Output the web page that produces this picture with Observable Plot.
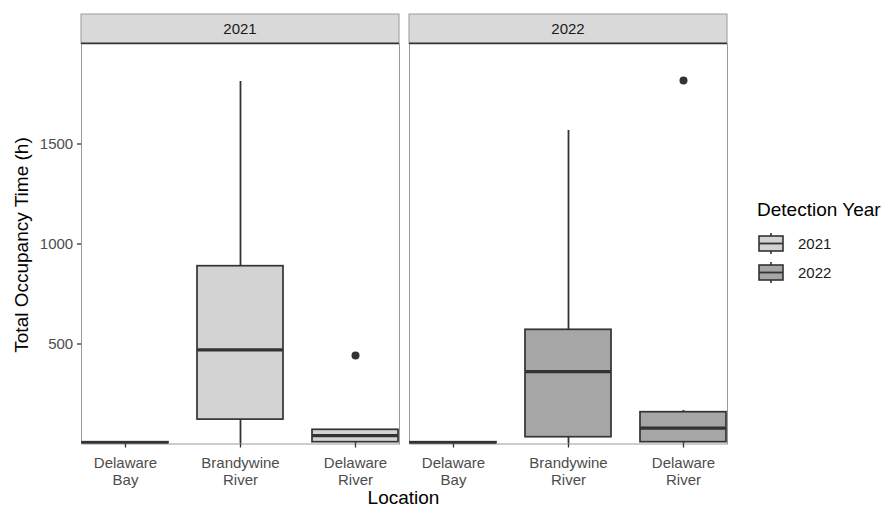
<!DOCTYPE html>
<html>
<head>
<meta charset="utf-8">
<script src="https://cdn.jsdelivr.net/npm/d3@7"></script>
<script src="https://cdn.jsdelivr.net/npm/@observablehq/plot@0.6"></script>
<style>
  html, body { margin: 0; padding: 0; background: white; }
  #chart { width: 885px; height: 507px; }
</style>
</head>
<body>
<div id="chart"></div>
<script>
// ---- data ----
const years = ["2021", "2022"];
const locations = ["Delaware Bay", "Brandywine River", "Delaware River"];
const yTicks = [500, 1000, 1500];

const boxYear     = ["2021", "2021", "2021", "2022", "2022", "2022"];
const boxLocation = ["Delaware Bay", "Brandywine River", "Delaware River",
                     "Delaware Bay", "Brandywine River", "Delaware River"];
const whiskerLow  = [0, 0, 0, 0, 0, 0];
const q1          = [0, 122, 9, 0, 34, 9];
const median      = [4, 471, 42, 4, 362, 79];
const q3          = [9, 889, 71, 9, 571, 159];
const whiskerHigh = [9, 1812, 71, 9, 1567, 167];

const outlierYear     = ["2021", "2022"];
const outlierLocation = ["Delaware River", "Delaware River"];
const outlierValue    = [442, 1817];

const fillColors = ["#D3D3D3", "#A6A6A6"];

// ---- tables ----
const boxes = boxYear.map((y, i) => ({
  year: y, location: boxLocation[i],
  lo: whiskerLow[i], q1: q1[i], med: median[i], q3: q3[i], hi: whiskerHigh[i]
}));
const outliers = outlierYear.map((y, i) => ({
  year: y, location: outlierLocation[i], value: outlierValue[i]
}));

const W = 885, H = 507;
const font = "Liberation Sans, Arial, Helvetica, sans-serif";

const plot = Plot.plot({
  width: W,
  height: H,
  marginLeft: 80,
  marginRight: 158,
  marginTop: 43.5,
  marginBottom: 63.5,
  style: { fontFamily: font, fontSize: "15px", background: "white", overflow: "visible" },
  fx: { domain: years, paddingInner: 0.031, paddingOuter: 0, axis: null },
  x: { domain: locations, paddingInner: 0.25, paddingOuter: 0 },
  y: { domain: [0, 2000] },
  color: { domain: years, range: fillColors },
  marks: [
    Plot.frame({ stroke: "#9a9a9a", strokeWidth: 1 }),
    Plot.ruleX(boxes, { fx: "year", x: "location", y1: "lo", y2: "q1", stroke: "#333", strokeWidth: 1.8, clip: true }),
    Plot.ruleX(boxes, { fx: "year", x: "location", y1: "q3", y2: "hi", stroke: "#333", strokeWidth: 1.8, clip: true }),
    Plot.barY(boxes, { fx: "year", x: "location", y1: "q1", y2: "q3", fill: "year", stroke: "#333", strokeWidth: 1.7, clip: true }),
    Plot.tickY(boxes, { fx: "year", x: "location", y: "med", stroke: "#333", strokeWidth: 3.2, clip: true }),
    Plot.dot(outliers, { fx: "year", x: "location", y: "value", r: 4, fill: "#333", stroke: null }),
    Plot.axisX({
      tickSize: 4, tickPadding: 8.5, fontSize: 15, lineHeight: 1.1,
      tickFormat: d => d.replace(" ", "\n"),
      stroke: "#333", strokeWidth: 1.3, fill: "#4d4d4d", label: null
    }),
    Plot.axisY({
      ticks: yTicks, tickSize: 4, tickPadding: 4.3, fontSize: 15,
      tickFormat: d => String(d),
      stroke: "#333", strokeWidth: 1.3, fill: "#4d4d4d", label: null
    })
  ]
});

document.getElementById("chart").appendChild(plot);

const svg = d3.select(plot);
const fx = plot.scale("fx");
const color = plot.scale("color");

// facet strips
years.forEach(yr => {
  const x0 = fx.apply(yr);
  const bw = fx.bandwidth;
  const g = svg.append("g");
  g.append("rect")
    .attr("x", x0).attr("y", 14).attr("width", bw).attr("height", 29.5)
    .attr("fill", "#D9D9D9").attr("stroke", "#9a9a9a").attr("stroke-width", 1);
  g.append("line")
    .attr("x1", x0).attr("x2", x0 + bw).attr("y1", 43.3).attr("y2", 43.3)
    .attr("stroke", "#333").attr("stroke-width", 1.6);
  g.append("text")
    .attr("x", x0 + bw / 2).attr("y", 34.3)
    .attr("text-anchor", "middle")
    .attr("font-size", 15).attr("fill", "#1a1a1a")
    .text(yr);
});

// axis titles
svg.append("text")
  .attr("transform", "translate(28,245) rotate(-90)")
  .attr("text-anchor", "middle")
  .attr("font-size", 19).attr("fill", "#000")
  .text("Total Occupancy Time (h)");

svg.append("text")
  .attr("x", 403.5).attr("y", 504)
  .attr("text-anchor", "middle")
  .attr("font-size", 19).attr("fill", "#000")
  .text("Location");

// legend
svg.append("text")
  .attr("x", 757).attr("y", 216)
  .attr("text-anchor", "start")
  .attr("font-size", 19).attr("fill", "#000")
  .text("Detection Year");

years.forEach((yr, i) => {
  const cy = 243.5 + i * 29;
  const g = svg.append("g");
  g.append("line")
    .attr("x1", 771).attr("x2", 771).attr("y1", cy - 10.5).attr("y2", cy + 10.5)
    .attr("stroke", "#333").attr("stroke-width", 1.6);
  g.append("rect")
    .attr("x", 759).attr("y", cy - 7.5).attr("width", 24).attr("height", 15)
    .attr("fill", color.apply(yr)).attr("stroke", "#333").attr("stroke-width", 1.6);
  g.append("line")
    .attr("x1", 759).attr("x2", 783).attr("y1", cy).attr("y2", cy)
    .attr("stroke", "#333").attr("stroke-width", 1.8);
  g.append("text")
    .attr("x", 798).attr("y", cy).attr("dy", "0.36em")
    .attr("text-anchor", "start")
    .attr("font-size", 15).attr("fill", "#1a1a1a")
    .text(yr);
});
</script>
</body>
</html>
